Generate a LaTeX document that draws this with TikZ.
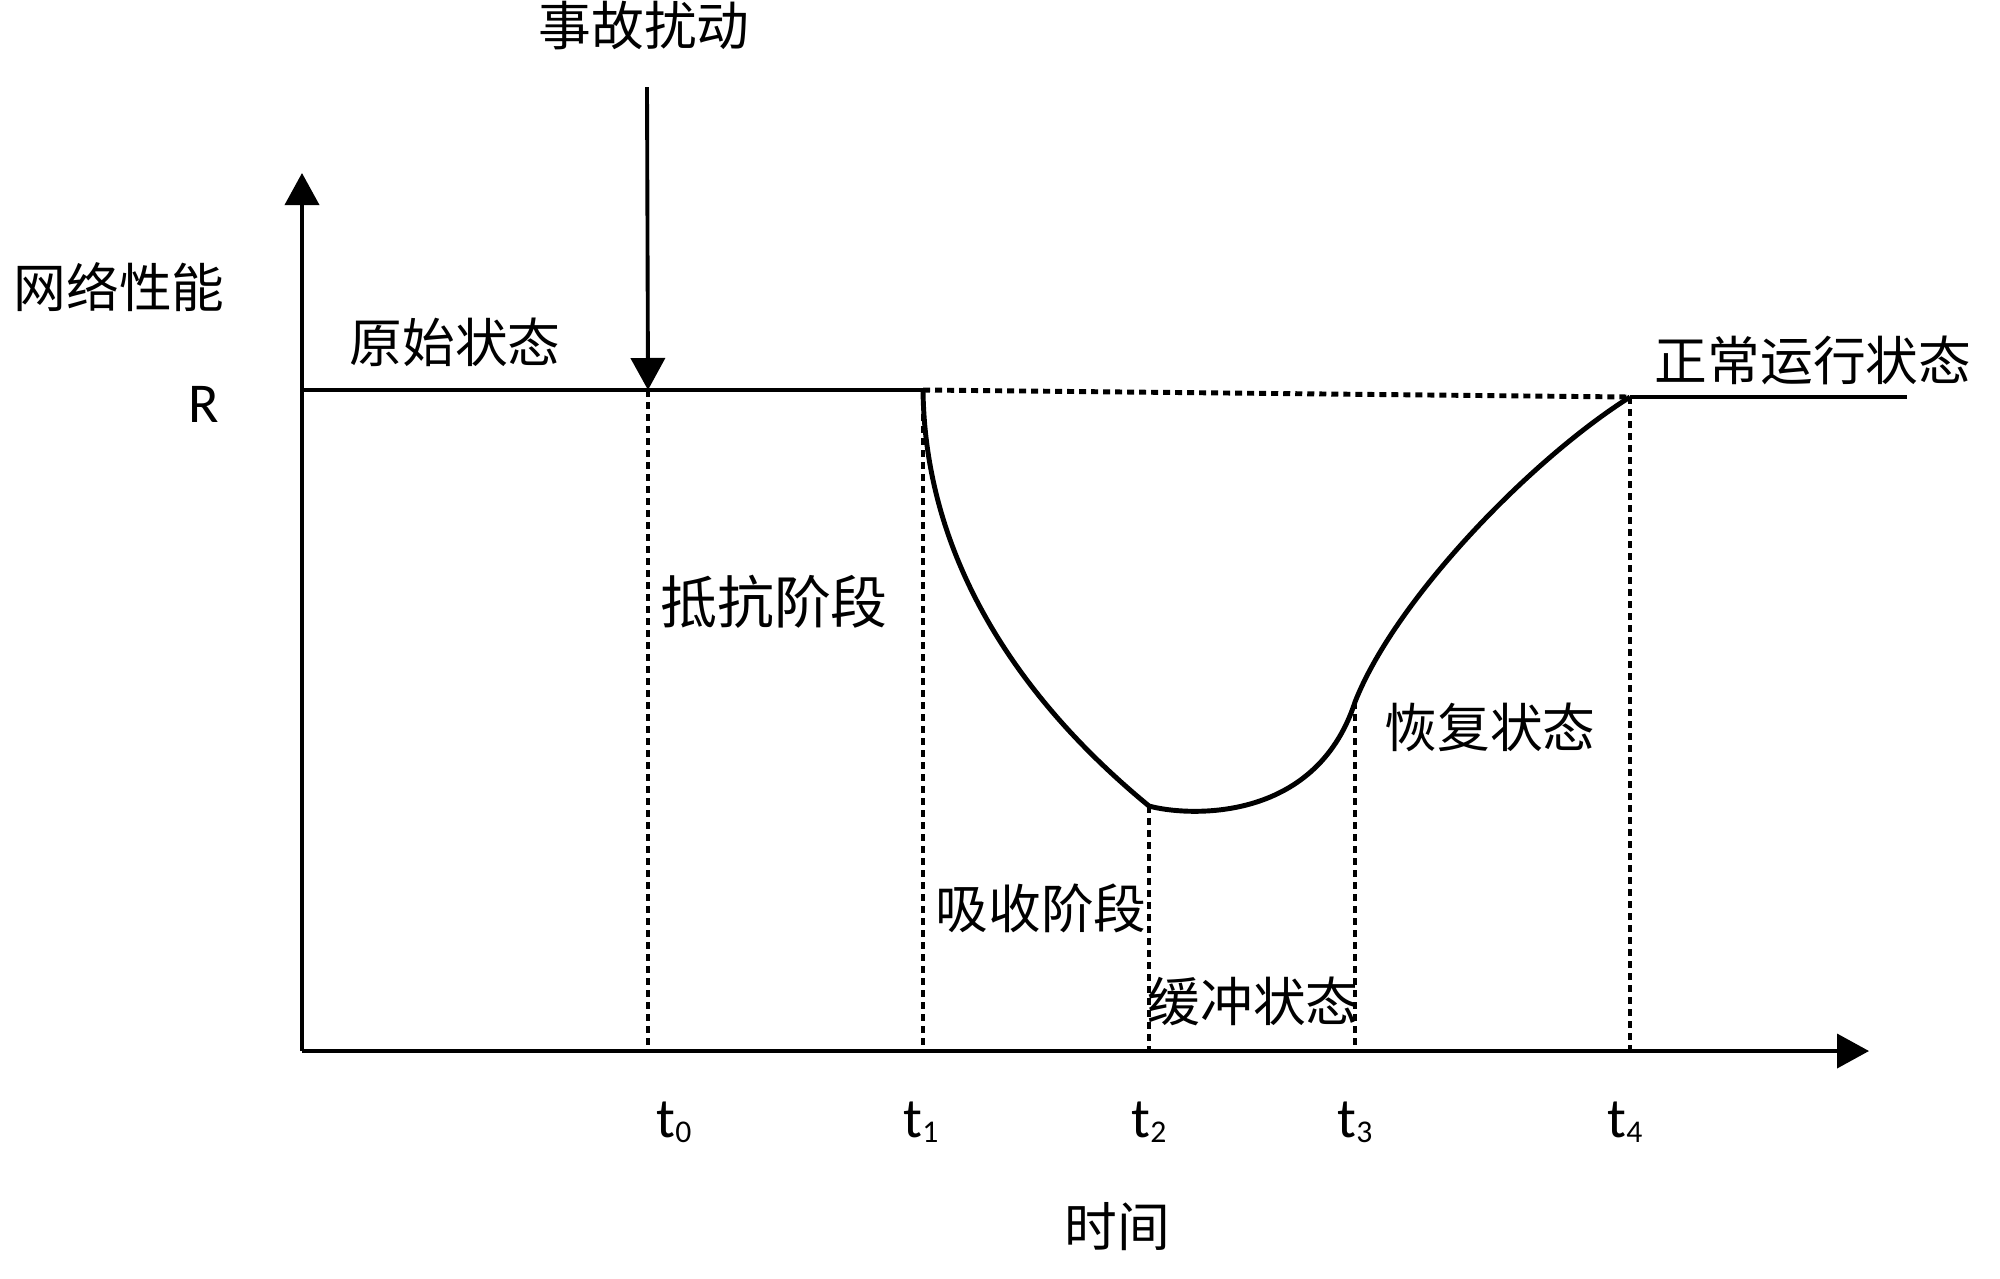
\documentclass[tikz,border=0pt]{standalone}
\usepackage{fontspec}
\setmainfont{Carlito}
\newfontfamily\cjk{Noto Sans CJK SC}
\usetikzlibrary{arrows.meta}
\begin{document}
\begin{tikzpicture}[x=0.01cm,y=-0.01cm,
  cjklabel/.style={inner sep=0pt,font=\cjk\fontsize{15}{18}\selectfont},
  latlabel/.style={inner sep=0pt,font=\fontsize{16}{19}\selectfont},
  axisline/.style={line width=1.1pt,-{Triangle[length=0.32cm,width=0.34cm]}},
  solidline/.style={line width=1.3pt},
  dotline/.style={line width=1.4pt,dash pattern=on 0.07cm off 0.05cm},
  curveline/.style={line width=1.4pt}]
\fill[white] (0,0) rectangle (2000,1278);
\useasboundingbox (0,0) rectangle (2000,1278);
% key points
\coordinate (O) at (302,1051);
\coordinate (ytip) at (302,173);
\coordinate (xtip) at (1869,1051);
\coordinate (R0) at (302,390);
\coordinate (T0top) at (648,390);
\coordinate (T1top) at (923,390);
\coordinate (T2pt) at (1149,806);
\coordinate (T3pt) at (1355,702);
\coordinate (T4pt) at (1630,397);
\coordinate (Rend) at (1907,397);
\coordinate (T0b) at (648,1051);
\coordinate (T1b) at (923,1051);
\coordinate (T2b) at (1149,1051);
\coordinate (T3b) at (1355,1051);
\coordinate (T4b) at (1630,1051);
\coordinate (arrstart) at (647,87);
% axes
\draw[axisline] (O) -- (ytip);
\draw[axisline] (O) -- (xtip);
% R level
\draw[solidline] (R0) -- (T1top);
\draw[dotline] (T1top) -- (T4pt);
\draw[solidline] (T4pt) -- (Rend);
% vertical dotted lines
\draw[dotline] (T0top) -- (T0b);
\draw[dotline] (T1top) -- (T1b);
\draw[dotline] (T2pt) -- (T2b);
\draw[dotline] (T3pt) -- (T3b);
\draw[dotline] (T4pt) -- (T4b);
% performance curve
\draw[curveline,line join=round] (T1top) .. controls (925,560) and (1020,700) .. (T2pt)
  .. controls (1185,816) and (1315,825) .. (T3pt)
  .. controls (1395,600) and (1530,460) .. (T4pt);
% disturbance arrow
\draw[axisline] (arrstart) -- (T0top);
% labels
\node[cjklabel] (dist) at (644,26) {事故扰动};
\node[cjklabel] (ylab) at (119,287) {网络性能};
\node[latlabel] (Rlab) at (204,404) {R};
\node[cjklabel] (orig) at (455,342) {原始状态};
\node[cjklabel,font=\cjk\fontsize{16.2}{19}\selectfont] (resist) at (774,602) {抵抗阶段};
\node[cjklabel] (absorb) at (1041,908) {吸收阶段};
\node[cjklabel] (buffer) at (1253,1001) {缓冲状态};
\node[cjklabel] (recov) at (1490,727) {恢复状态};
\node[cjklabel] (normal) at (1813,360) {正常运行状态};
\node[cjklabel] (xlab) at (1117,1227) {时间};
\newcommand{\tlab}[1]{t\raisebox{-0.2ex}{\fontsize{9}{10}\selectfont #1}}
\node[latlabel] (t0) at (674,1122) {\tlab{0}};
\node[latlabel] (t1) at (921,1122) {\tlab{1}};
\node[latlabel] (t2) at (1149,1122) {\tlab{2}};
\node[latlabel] (t3) at (1355,1122) {\tlab{3}};
\node[latlabel] (t4) at (1625,1122) {\tlab{4}};
\end{tikzpicture}
\end{document}
